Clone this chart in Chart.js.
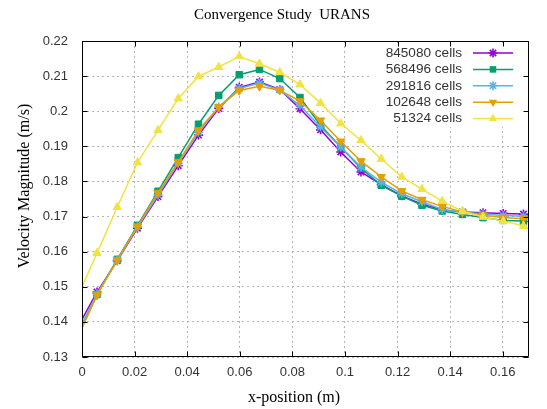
<!DOCTYPE html>
<html>
<head>
<meta charset="utf-8">
<script src="https://cdn.jsdelivr.net/npm/chart.js@4.4.0/dist/chart.umd.min.js"></script>
<style>
  body { margin: 0; background: #fff; }
  #wrap { width: 547px; height: 409px; }
</style>
</head>
<body>
<div id="wrap"><canvas id="convergenceChart"></canvas></div>
<script>
// x positions of the sampling points (m)
var xPos = [0, 0.0057, 0.0134, 0.0211, 0.0289, 0.0366, 0.0443, 0.0520, 0.0598, 0.0675, 0.0752, 0.0829,
            0.0907, 0.0984, 0.1061, 0.1138, 0.1216, 0.1293, 0.1370, 0.1447, 0.1525, 0.1602, 0.1679, 0.1700];

var cells845080 = [0.1407, 0.1485, 0.1574, 0.1667, 0.1757, 0.1845, 0.1932, 0.2008, 0.2068, 0.2083, 0.2062, 0.2007,
                   0.1947, 0.1884, 0.1827, 0.1791, 0.1759, 0.1735, 0.1719, 0.1713, 0.1711, 0.1709, 0.1707, 0.1704];
var cells568496 = [0.1385, 0.1478, 0.1578, 0.1675, 0.1772, 0.1868, 0.1963, 0.2045, 0.2104, 0.2119, 0.2093, 0.2039,
                   0.1960, 0.1898, 0.1838, 0.1789, 0.1758, 0.1732, 0.1716, 0.1706, 0.1697, 0.1689, 0.1687, 0.1685];
var cells291816 = [0.1395, 0.1480, 0.1576, 0.1670, 0.1762, 0.1852, 0.1940, 0.2012, 0.2065, 0.2080, 0.2061, 0.2016,
                   0.1955, 0.1898, 0.1841, 0.1798, 0.1765, 0.1742, 0.1720, 0.1713, 0.1707, 0.1703, 0.1701, 0.1700];
var cells102648 = [0.1383, 0.1476, 0.1576, 0.1672, 0.1768, 0.1855, 0.1946, 0.2012, 0.2059, 0.2071, 0.2060, 0.2029,
                   0.1974, 0.1914, 0.1858, 0.1813, 0.1773, 0.1748, 0.1729, 0.1713, 0.1704, 0.1697, 0.1694, 0.1692];
var cells51324  = [0.1500, 0.1596, 0.1727, 0.1854, 0.1946, 0.2036, 0.2099, 0.2126, 0.2156, 0.2135, 0.2111, 0.2076,
                   0.2023, 0.1965, 0.1917, 0.1864, 0.1813, 0.1778, 0.1744, 0.1715, 0.1699, 0.1687, 0.1673, 0.1666];

var seriesLabels = ['845080 cells', '568496 cells', '291816 cells', '102648 cells', '51324 cells'];
var xTicks = [0, 0.02, 0.04, 0.06, 0.08, 0.1, 0.12, 0.14, 0.16];
var yTicks = [0.13, 0.14, 0.15, 0.16, 0.17, 0.18, 0.19, 0.2, 0.21, 0.22];

var X_MIN = 0, X_MAX = 0.17, Y_MIN = 0.13, Y_MAX = 0.22;

function pts(arr) {
  return xPos.map(function (x, i) { return { x: x, y: arr[i] }; });
}

// marker size hidden on the frame edges
function radiusFor(r) {
  return function (c) {
    var xv = xPos[c.dataIndex];
    return (xv <= X_MIN || xv >= X_MAX) ? 0 : r;
  };
}

var styles = [
  { color: '#9400d3', pointStyle: 'star',     rotation: 0,   radius: 4.5, border: 1.6 },
  { color: '#009e73', pointStyle: 'rect',     rotation: 0,   radius: 4.6, border: 1 },
  { color: '#56b4e9', pointStyle: 'star',     rotation: 0,   radius: 4.5, border: 1.6 },
  { color: '#e69f00', pointStyle: 'triangle', rotation: 180, radius: 4.8, border: 1 },
  { color: '#f0e442', pointStyle: 'triangle', rotation: 0,   radius: 4.8, border: 1 }
];
var seriesData = [cells845080, cells568496, cells291816, cells102648, cells51324];

var datasets = seriesData.map(function (arr, i) {
  var s = styles[i];
  return {
    label: seriesLabels[i],
    data: pts(arr),
    borderColor: s.color,
    backgroundColor: s.color,
    borderWidth: 1.5,
    pointStyle: s.pointStyle,
    rotation: s.rotation,
    pointRadius: radiusFor(s.radius),
    pointBorderWidth: s.border,
    pointBackgroundColor: s.color,
    pointBorderColor: s.color,
    tension: 0,
    clip: 0,
    order: 4 - i
  };
});

function drawMarker(ctx, s, x, y) {
  var r = s.radius;
  ctx.save();
  ctx.fillStyle = s.color;
  ctx.strokeStyle = s.color;
  ctx.lineWidth = s.border;
  ctx.beginPath();
  if (s.pointStyle === 'star') {
    for (var k = 0; k < 4; k++) {
      var a = k * Math.PI / 4;
      ctx.moveTo(x - Math.sin(a) * r, y - Math.cos(a) * r);
      ctx.lineTo(x + Math.sin(a) * r, y + Math.cos(a) * r);
    }
    ctx.stroke();
  } else if (s.pointStyle === 'rect') {
    var h = Math.SQRT1_2 * r;
    ctx.rect(x - h, y - h, 2 * h, 2 * h);
    ctx.fill();
  } else {
    var rot = s.rotation * Math.PI / 180;
    for (var j = 0; j < 3; j++) {
      var t = rot + j * 2 * Math.PI / 3;
      var px = x + Math.sin(t) * r, py = y - Math.cos(t) * r;
      if (j === 0) ctx.moveTo(px, py); else ctx.lineTo(px, py);
    }
    ctx.closePath();
    ctx.fill();
  }
  ctx.restore();
}

var framePlugin = {
  id: 'frame',
  afterDatasetsDraw: function (chart) {
    var ctx = chart.ctx, a = chart.chartArea;
    var xs = chart.scales.x, ys = chart.scales.y;

    // key box
    ctx.save();
    ctx.fillStyle = '#ffffff';
    ctx.fillRect(370, 44, 154, 83);
    ctx.font = '13.6px "Liberation Sans", Arial, sans-serif';
    ctx.textAlign = 'right';
    ctx.textBaseline = 'middle';
    chart.data.datasets.forEach(function (ds, i) {
      var yy = 53 + i * 16.4;
      var s = styles[i];
      ctx.fillStyle = '#333333';
      ctx.fillText(ds.label, 462, yy);
      ctx.strokeStyle = s.color;
      ctx.lineWidth = 1.5;
      ctx.beginPath();
      ctx.moveTo(473, yy);
      ctx.lineTo(513, yy);
      ctx.stroke();
      drawMarker(ctx, s, 493, yy);
    });
    ctx.restore();

    // border with inward tics
    ctx.save();
    ctx.strokeStyle = '#000000';
    ctx.lineWidth = 1;
    var L = Math.round(a.left) + 0.5, R = Math.round(a.right) - 0.5;
    var T = Math.round(a.top) + 0.5, B = Math.round(a.bottom) - 0.5;
    ctx.beginPath();
    ctx.rect(L, T, R - L, B - T);
    var tl = 5;
    xTicks.forEach(function (v) {
      var px = Math.round(xs.getPixelForValue(v)) + 0.5;
      ctx.moveTo(px, B); ctx.lineTo(px, B - tl);
      ctx.moveTo(px, T); ctx.lineTo(px, T + tl);
    });
    yTicks.forEach(function (v) {
      var py = Math.round(ys.getPixelForValue(v)) + 0.5;
      ctx.moveTo(L, py); ctx.lineTo(L + tl, py);
      ctx.moveTo(R, py); ctx.lineTo(R - tl, py);
    });
    ctx.stroke();
    ctx.restore();
  },
  afterDraw: function (chart) {
    var ctx = chart.ctx;
    ctx.save();
    ctx.fillStyle = '#000000';
    ctx.textAlign = 'center';
    ctx.textBaseline = 'middle';
    ctx.font = '15px "Liberation Serif", "Times New Roman", serif';
    ctx.fillText('Convergence Study  URANS', 282, 15);
    ctx.font = '16px "Liberation Serif", "Times New Roman", serif';
    ctx.fillText('x-position (m)', 294, 398);
    ctx.translate(25, 186);
    ctx.rotate(-Math.PI / 2);
    ctx.fillText('Velocity Magnitude (m/s)', 0, 0);
    ctx.restore();
  }
};

function fmt(v) {
  return String(+v.toFixed(2));
}

var ctxC = document.getElementById('convergenceChart').getContext('2d');
var convergenceChart = new Chart(ctxC, {
  type: 'line',
  data: { datasets: datasets },
  options: {
    responsive: true,
    maintainAspectRatio: false,
    animation: false,
    events: [],
    layout: { padding: { top: 41, right: 18, left: 0, bottom: 0 } },
    plugins: {
      legend: { display: false },
      title: { display: false },
      tooltip: { enabled: false }
    },
    scales: {
      x: {
        type: 'linear',
        min: X_MIN,
        max: X_MAX,
        afterBuildTicks: function (scale) {
          scale.ticks = xTicks.map(function (v) { return { value: v }; });
        },
        afterFit: function (scale) { scale.height = 52; },
        grid: { color: '#b4b4b4', lineWidth: 1, drawTicks: false },
        border: { display: false, dash: [2, 3] },
        ticks: {
          padding: 8,
          maxRotation: 0,
          color: '#333333',
          font: { family: '"Liberation Sans", Arial, sans-serif', size: 13 },
          callback: function (v) { return fmt(v); }
        }
      },
      y: {
        type: 'linear',
        min: Y_MIN,
        max: Y_MAX,
        afterBuildTicks: function (scale) {
          scale.ticks = yTicks.map(function (v) { return { value: v }; });
        },
        afterFit: function (scale) { scale.width = 82; },
        grid: { color: '#b4b4b4', lineWidth: 1, drawTicks: false },
        border: { display: false, dash: [2, 3] },
        ticks: {
          padding: 14,
          color: '#333333',
          font: { family: '"Liberation Sans", Arial, sans-serif', size: 13 },
          callback: function (v) { return fmt(v); }
        }
      }
    }
  },
  plugins: [framePlugin]
});
</script>
</body>
</html>
